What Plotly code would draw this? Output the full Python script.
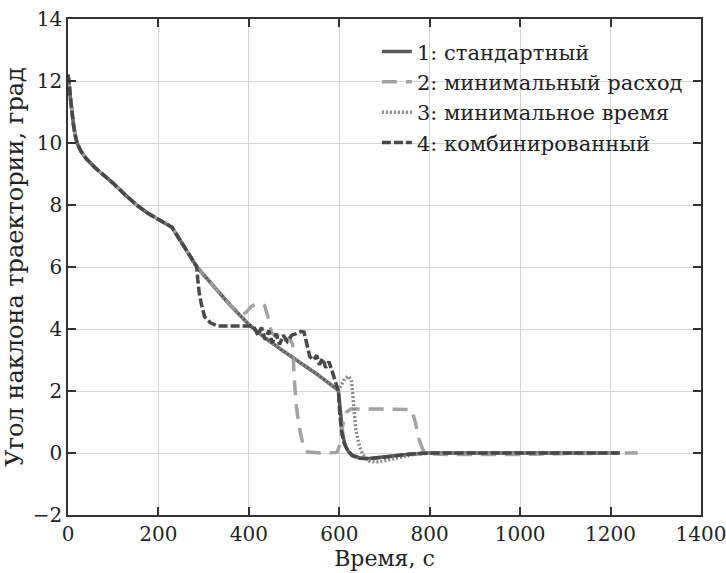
import plotly.graph_objects as go

# Common initial segment (all regimes)
t_common = [0, 2, 5, 8, 12, 16, 20, 28, 40, 60, 80, 100, 125, 150, 175, 200, 220, 230, 240, 255, 270, 285]
y_common = [12.2, 12.0, 11.5, 11.05, 10.6, 10.25, 10.0, 9.75, 9.5, 9.2, 8.95, 8.7, 8.35, 8.02, 7.75, 7.55, 7.38, 7.28, 7.05, 6.7, 6.35, 6.0]

# 1: standard
t1_tail = [300, 330, 360, 400, 430, 470, 500, 550, 598, 601, 604, 608, 613, 620, 630, 645, 665, 690, 720, 760, 800, 900, 1220]
y1_tail = [5.75, 5.25, 4.75, 4.15, 3.78, 3.35, 3.05, 2.55, 2.02, 1.5, 1.0, 0.55, 0.25, 0.05, -0.08, -0.16, -0.18, -0.14, -0.09, -0.03, 0.0, 0.0, 0.0]

# 2: minimal consumption
t2_tail = [300, 330, 360, 385, 395, 405, 415, 425, 435, 442, 450, 460, 470, 480, 490, 497, 500, 505, 512, 520, 530, 560, 595, 602, 608, 615, 625, 700, 760, 768, 775, 785, 800, 850, 1000, 1100, 1260]
y2_tail = [5.75, 5.25, 4.75, 4.45, 4.55, 4.72, 4.8, 4.82, 4.75, 4.4, 3.9, 3.75, 3.85, 3.65, 3.7, 3.5, 2.5, 1.5, 0.8, 0.25, 0.03, 0.0, 0.02, 0.3, 0.9, 1.3, 1.42, 1.42, 1.4, 1.0, 0.5, 0.1, -0.03, -0.05, -0.05, -0.02, 0.0]

# 3: minimal time
t3_tail = [300, 330, 360, 400, 430, 470, 500, 550, 598, 605, 612, 620, 627, 632, 637, 645, 652, 665, 680, 700, 730, 760, 800, 900, 1220]
y3_tail = [5.75, 5.25, 4.75, 4.15, 3.78, 3.35, 3.05, 2.55, 2.02, 2.2, 2.4, 2.48, 2.35, 1.5, 0.7, 0.2, -0.05, -0.25, -0.3, -0.25, -0.15, -0.06, 0.0, 0.0, 0.0]

# 4: combined
t4_tail = [287, 290, 295, 302, 315, 330, 400, 410, 420, 428, 436, 444, 452, 460, 468, 476, 485, 495, 505, 515, 522, 528, 535, 543, 550, 556, 563, 570, 577, 585, 592, 598, 601, 605, 610, 618, 628, 645, 665, 690, 720, 760, 800, 900, 1220]
y4_tail = [5.6, 5.2, 4.8, 4.4, 4.2, 4.1, 4.1, 4.1, 3.8, 4.05, 3.65, 3.95, 3.55, 3.85, 3.5, 3.8, 3.6, 3.8, 3.85, 3.92, 3.9, 3.5, 3.1, 3.0, 3.15, 2.85, 3.05, 2.75, 2.95, 2.6, 2.3, 2.0, 1.3, 0.7, 0.35, 0.1, -0.08, -0.17, -0.19, -0.15, -0.09, -0.03, 0.0, 0.0, 0.0]

names = ["1: стандартный", "2: минимальный расход", "3: минимальное время", "4: комбинированный"]

x_ticks = [0, 200, 400, 600, 800, 1000, 1200, 1400]
y_ticks = [-2, 0, 2, 4, 6, 8, 10, 12, 14]

FONT = "DejaVu Serif"

fig = go.Figure()
series = [
    (t_common + t1_tail, y_common + y1_tail, "#5a5a5a", "solid"),
    (t_common + t2_tail, y_common + y2_tail, "#a3a3a3", "15px,9px"),
    (t_common + t3_tail, y_common + y3_tail, "#8a8a8a", "2px,2px"),
    (t_common + t4_tail, y_common + y4_tail, "#484848", "9px,3px"),
]
for (tx, ty, col, dash), nm in zip(series, names):
    fig.add_trace(go.Scatter(x=tx, y=ty, mode="lines", name=nm,
                             line=dict(color=col, width=3.5, dash=dash)))

axis_common = dict(
    showline=True, linecolor="#333333", linewidth=1.5, mirror="ticks",
    ticks="inside", ticklen=8, tickcolor="#333333", tickwidth=1.5,
    showgrid=True, gridcolor="#d6d6d6", gridwidth=1, zeroline=False,
    tickfont=dict(family=FONT, size=20, color="#222222"),
    ticklabeloverflow="allow", automargin=False,
)

fig.update_layout(
    width=726, height=573,
    margin=dict(l=68, r=25, t=19, b=58, autoexpand=False),
    paper_bgcolor="white", plot_bgcolor="white",
    font=dict(family=FONT, size=20, color="#222222"),
    xaxis=dict(range=[0, 1400], tickvals=x_ticks,
               title=dict(text="Время, с", font=dict(family=FONT, size=22), standoff=2),
               **axis_common),
    yaxis=dict(range=[-2, 14], tickvals=y_ticks,
               title=dict(text="Угол наклона траектории, град", font=dict(family=FONT, size=24), standoff=2),
               **axis_common),
    legend=dict(x=0.488, y=0.975, xanchor="left", yanchor="top",
                bgcolor="rgba(255,255,255,0)", borderwidth=0,
                font=dict(family=FONT, size=21), tracegroupgap=0,
                itemwidth=30),
    showlegend=True,
)

fig.write_html("out.html")
